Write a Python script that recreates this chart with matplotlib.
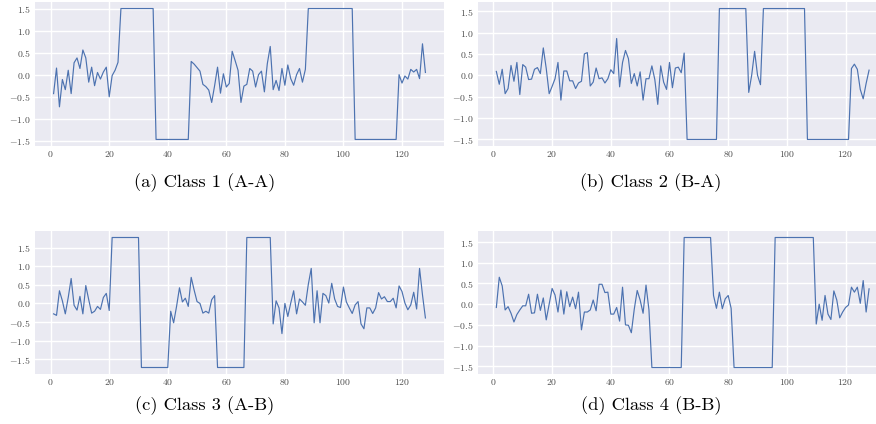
import matplotlib
matplotlib.use("Agg")
import matplotlib.pyplot as plt
from matplotlib.ticker import MultipleLocator, FuncFormatter

# ---------------- data ----------------
time_steps = list(range(1, 129))

class1_AA = [
    -0.43, 0.15, -0.73, -0.11, -0.34, 0.10, -0.43, 0.27, 0.38, 0.14,
    0.56, 0.38, -0.17, 0.17, -0.25, 0.05, -0.10, 0.06, 0.17, -0.50,
    -0.02, 0.10, 0.28, 1.50, 1.50, 1.50, 1.50, 1.50, 1.50, 1.50,
    1.50, 1.50, 1.50, 1.50, 1.50, -1.47, -1.47, -1.47, -1.47, -1.47,
    -1.47, -1.47, -1.47, -1.47, -1.47, -1.47, -1.47, 0.30, 0.24, 0.16,
    0.08, -0.22, -0.27, -0.35, -0.63, -0.25, 0.17, -0.42, 0.02, -0.28,
    -0.20, 0.53, 0.32, 0.10, -0.63, -0.26, -0.22, 0.14, 0.08, -0.28,
    0.00, 0.08, -0.39, 0.25, 0.64, -0.34, -0.13, -0.36, 0.14, -0.24,
    0.22, -0.09, -0.24, 0.00, 0.14, -0.17, 0.12, 1.50, 1.50, 1.50,
    1.50, 1.50, 1.50, 1.50, 1.50, 1.50, 1.50, 1.50, 1.50, 1.50,
    1.50, 1.50, 1.50, -1.47, -1.47, -1.47, -1.47, -1.47, -1.47, -1.47,
    -1.47, -1.47, -1.47, -1.47, -1.47, -1.47, -1.47, -1.47, 0.00, -0.19,
    -0.03, -0.10, 0.12, 0.06, 0.12, -0.09, 0.70, 0.05,
]

class2_BA = [
    0.09, -0.21, 0.14, -0.43, -0.31, 0.23, -0.14, 0.30, -0.45, 0.25,
    0.19, -0.10, -0.09, 0.14, 0.18, 0.04, 0.64, 0.16, -0.43, -0.26,
    -0.08, 0.30, -0.58, 0.10, 0.10, -0.13, -0.13, -0.31, -0.18, -0.14,
    0.50, 0.53, -0.25, -0.16, 0.17, -0.08, -0.06, -0.18, -0.08, 0.13,
    0.04, 0.86, -0.27, 0.30, 0.58, 0.39, -0.19, 0.04, -0.25, 0.08,
    -0.58, -0.08, -0.08, 0.22, -0.10, -0.68, 0.22, -0.16, -0.33, 0.30,
    -0.29, 0.17, 0.19, 0.06, 0.52, -1.50, -1.50, -1.50, -1.50, -1.50,
    -1.50, -1.50, -1.50, -1.50, -1.50, -1.50, 1.56, 1.56, 1.56, 1.56,
    1.56, 1.56, 1.56, 1.56, 1.56, 1.56, -0.40, 0.00, 0.56, 0.00,
    -0.22, 1.56, 1.56, 1.56, 1.56, 1.56, 1.56, 1.56, 1.56, 1.56,
    1.56, 1.56, 1.56, 1.56, 1.56, 1.56, -1.50, -1.50, -1.50, -1.50,
    -1.50, -1.50, -1.50, -1.50, -1.50, -1.50, -1.50, -1.50, -1.50, -1.50,
    -1.50, 0.16, 0.26, 0.14, -0.33, -0.55, -0.19, 0.12,
]

class3_AB = [
    -0.28, -0.32, 0.34, 0.07, -0.28, 0.16, 0.67, -0.05, -0.18, 0.19,
    -0.28, 0.48, 0.10, -0.26, -0.21, -0.08, -0.16, 0.16, 0.27, -0.19,
    1.77, 1.77, 1.77, 1.77, 1.77, 1.77, 1.77, 1.77, 1.77, 1.77,
    -1.72, -1.72, -1.72, -1.72, -1.72, -1.72, -1.72, -1.72, -1.72, -1.72,
    -0.21, -0.52, -0.08, 0.42, 0.04, 0.14, -0.08, 0.70, 0.36, 0.05,
    0.00, -0.26, -0.21, -0.26, 0.10, 0.21, -1.72, -1.72, -1.72, -1.72,
    -1.72, -1.72, -1.72, -1.72, -1.72, -1.72, 1.77, 1.77, 1.77, 1.77,
    1.77, 1.77, 1.77, 1.77, 1.77, -0.55, 0.07, -0.12, -0.81, 0.00,
    -0.35, 0.01, 0.34, -0.28, 0.12, 0.04, -0.05, 0.51, 0.94, -0.52,
    0.34, -0.52, 0.27, 0.21, 0.01, 0.54, 0.12, -0.08, -0.11, 0.44,
    0.04, -0.12, -0.27, -0.04, 0.05, -0.55, -0.68, -0.12, -0.12, -0.27,
    -0.12, 0.29, 0.12, 0.18, 0.05, 0.05, 0.14, -0.12, 0.47, 0.32,
    0.01, -0.17, -0.04, 0.30, -0.15, 0.94, 0.23, -0.39,
]

class4_BB = [
    -0.08, 0.65, 0.44, -0.14, -0.06, -0.22, -0.43, -0.25, -0.14, -0.04,
    -0.04, 0.24, -0.22, -0.21, 0.24, -0.15, 0.15, -0.38, 0.00, 0.38,
    0.22, -0.19, 0.34, -0.24, 0.30, -0.06, 0.17, -0.11, 0.29, -0.62,
    -0.19, -0.19, -0.14, 0.10, -0.16, 0.48, 0.48, 0.28, 0.29, -0.24,
    -0.24, -0.08, -0.41, 0.41, -0.50, -0.51, -0.69, -0.12, 0.33, 0.10,
    -0.22, 0.46, -0.14, -1.53, -1.53, -1.53, -1.53, -1.53, -1.53, -1.53,
    -1.53, -1.53, -1.53, -1.53, 1.61, 1.61, 1.61, 1.61, 1.61, 1.61,
    1.61, 1.61, 1.61, 1.61, 0.21, -0.10, 0.29, -0.11, 0.13, 0.21,
    -0.10, -1.53, -1.53, -1.53, -1.53, -1.53, -1.53, -1.53, -1.53, -1.53,
    -1.53, -1.53, -1.53, -1.53, -1.53, 1.61, 1.61, 1.61, 1.61, 1.61,
    1.61, 1.61, 1.61, 1.61, 1.61, 1.61, 1.61, 1.61, 1.61, -0.48,
    0.00, -0.39, 0.21, -0.24, -0.37, 0.32, 0.10, -0.33, -0.19, -0.08,
    -0.02, 0.41, 0.29, 0.41, 0.02, 0.57, -0.19, 0.37,
]

captions = ["(a) Class 1 (A-A)", "(b) Class 2 (B-A)",
            "(c) Class 3 (A-B)", "(d) Class 4 (B-B)"]
series = [class1_AA, class2_BA, class3_AB, class4_BB]

# ---------------- style ----------------
plt.rcParams.update({
    "mathtext.fontset": "cm",
    "axes.facecolor": "#eaeaf2",
    "figure.facecolor": "white",
    "axes.edgecolor": "white",
    "grid.color": "white",
    "grid.linewidth": 1.0,
    "axes.axisbelow": True,
})

W, H = 876, 424
fig = plt.figure(figsize=(W / 100, H / 100), dpi=100)

# axes boxes in pixels: (left, top, width, height)
boxes = [(35, 2, 409, 144), (477.7, 2, 410, 144),
         (35, 231, 409, 143), (477.7, 231, 410, 143)]
caption_pos = [(205, 183), (651, 183), (205, 406), (651, 406)]

fmt = FuncFormatter(lambda v, _: "$%.1f$" % v)
fmt_x = FuncFormatter(lambda v, _: "$%d$" % v)

for data, box, cap, cpos in zip(series, boxes, captions, caption_pos):
    l, t, w, h = box
    ax = fig.add_axes([l / W, 1 - (t + h) / H, w / W, h / H])
    ax.plot(time_steps, data, color="#4c72b0", linewidth=0.85)
    ax.xaxis.set_major_locator(MultipleLocator(20))
    ax.yaxis.set_major_locator(MultipleLocator(0.5))
    ax.xaxis.set_major_formatter(fmt_x)
    ax.yaxis.set_major_formatter(fmt)
    ax.grid(True, which="major")
    for s in ax.spines.values():
        s.set_visible(False)
    ax.tick_params(length=0, labelsize=7, labelcolor="0.3")
    ax.tick_params(axis="x", pad=2)
    ax.tick_params(axis="y", pad=3)
    fig.text(cpos[0] / W, 1 - cpos[1] / H, cap, ha="center", va="center",
             fontsize=13.3, family="cmr10", color="black")

fig.savefig("out.png", dpi=100)
